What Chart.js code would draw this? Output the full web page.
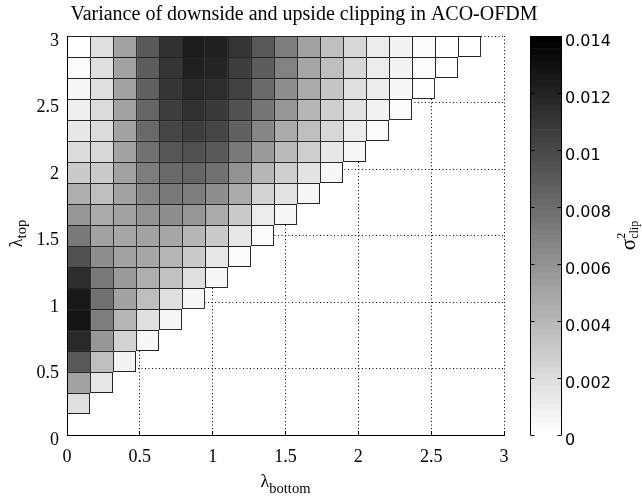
<!DOCTYPE html>
<html>
<head>
<meta charset="utf-8">
<script src="https://cdn.jsdelivr.net/npm/chart.js@4.4.0/dist/chart.umd.min.js"></script>
<style>
    html, body { margin: 0; padding: 0; background: #fff; }
    #wrap { position: relative; width: 642px; height: 498px; }
    #wrap canvas { position: absolute; left: 0; top: 0; }
</style>
</head>
<body>
<div id="wrap">
    <canvas id="heatmap" width="642" height="498"></canvas>
    <canvas id="colorbar" width="642" height="498"></canvas>
</div>
<script>
// lambda grid (20 points, 0..3) used for both lambda_bottom and lambda_top
const lambdaGrid = [0, 0.158, 0.316, 0.474, 0.632, 0.789, 0.947, 1.105, 1.263, 1.421,
                    1.579, 1.737, 1.895, 2.053, 2.211, 2.368, 2.526, 2.684, 2.842, 3];

// clipping variance, one row per lambda_top cell (top row first),
// entries go left to right along lambda_bottom
const varianceRows = [
    [0, 0.0019, 0.0052, 0.0091, 0.0113, 0.0124, 0.0122, 0.0110, 0.0091, 0.0071, 0.0052, 0.0036, 0.0022, 0.0013, 0.0008, 0.0004, 0, 0],
    [0.0003, 0.0019, 0.0052, 0.0088, 0.0111, 0.0122, 0.0119, 0.0107, 0.0088, 0.0069, 0.0049, 0.0035, 0.0022, 0.0013, 0.0007, 0.0003, 0],
    [0.0006, 0.0019, 0.0051, 0.0086, 0.0110, 0.0118, 0.0115, 0.0103, 0.0082, 0.0063, 0.0046, 0.0031, 0.0019, 0.0011, 0.0006, 0.0002],
    [0.0010, 0.0020, 0.0051, 0.0085, 0.0106, 0.0113, 0.0108, 0.0096, 0.0075, 0.0057, 0.0041, 0.0028, 0.0017, 0.0008, 0.0003],
    [0.0014, 0.0020, 0.0051, 0.0081, 0.0101, 0.0106, 0.0101, 0.0086, 0.0066, 0.0048, 0.0035, 0.0022, 0.0011, 0.0003],
    [0.0020, 0.0024, 0.0052, 0.0077, 0.0093, 0.0096, 0.0090, 0.0074, 0.0055, 0.0038, 0.0028, 0.0015, 0.0006],
    [0.0030, 0.0030, 0.0052, 0.0071, 0.0082, 0.0085, 0.0077, 0.0060, 0.0041, 0.0028, 0.0017, 0.0006],
    [0.0044, 0.0037, 0.0052, 0.0066, 0.0074, 0.0071, 0.0063, 0.0047, 0.0025, 0.0017, 0.0006],
    [0.0058, 0.0047, 0.0052, 0.0060, 0.0063, 0.0058, 0.0047, 0.0030, 0.0013, 0.0006],
    [0.0074, 0.0052, 0.0049, 0.0052, 0.0049, 0.0041, 0.0030, 0.0015, 0.0004],
    [0.0096, 0.0063, 0.0052, 0.0049, 0.0041, 0.0030, 0.0015, 0.0004],
    [0.0115, 0.0074, 0.0055, 0.0044, 0.0033, 0.0019, 0.0006],
    [0.0126, 0.0077, 0.0052, 0.0036, 0.0019, 0.0006],
    [0.0129, 0.0071, 0.0041, 0.0019, 0.0006],
    [0.0118, 0.0058, 0.0025, 0.0006],
    [0.0091, 0.0036, 0.0008],
    [0.0052, 0.0014],
    [0.0019]
];

const axisTicks = [0, 0.5, 1, 1.5, 2, 2.5, 3];
const axisTickLabels = ['0', '0.5', '1', '1.5', '2', '2.5', '3'];
const cbarTicks = [0, 0.002, 0.004, 0.006, 0.008, 0.01, 0.012, 0.014];
const cbarTickLabels = ['0', '0.002', '0.004', '0.006', '0.008', '0.01', '0.012', '0.014'];
const cMax = 0.014;
const cLevels = 64;

const titleText = 'Variance of downside and upside clipping in ACO-OFDM';

// reversed gray colormap (white = 0, black = max)
function grayFor(v) {
    const level = Math.min(cLevels - 1, Math.max(0, Math.floor(v / cMax * cLevels)));
    const g = Math.round(255 * (1 - level / (cLevels - 1)));
    return `rgb(${g},${g},${g})`;
}

// build one floating bar per cell
const cells = [];
varianceRows.forEach((row, r) => {
    const j = lambdaGrid.length - 2 - r;
    row.forEach((v, i) => {
        cells.push({
            x: (lambdaGrid[i] + lambdaGrid[i + 1]) / 2,
            y: [lambdaGrid[j], lambdaGrid[j + 1]],
            v: v, i: i, j: j
        });
    });
});

const align = p => Math.round(p - 0.5) + 0.5;

function drawSub(ctx, main, sub, x, y, mainSize, subSize, subDrop) {
    ctx.font = mainSize + 'px "Liberation Serif"';
    const w1 = ctx.measureText(main).width;
    ctx.font = subSize + 'px "Liberation Serif"';
    const w2 = ctx.measureText(sub).width;
    const start = x - (w1 + w2) / 2;
    ctx.textAlign = 'left';
    ctx.font = mainSize + 'px "Liberation Serif"';
    ctx.fillText(main, start, y);
    ctx.font = subSize + 'px "Liberation Serif"';
    ctx.fillText(sub, start + w1, y + subDrop);
}

const heatmapLabels = {
    id: 'heatmapLabels',
    afterDraw(chart) {
        const {ctx, chartArea, scales} = chart;
        ctx.save();
        ctx.fillStyle = '#000';
        ctx.strokeStyle = '#000';
        ctx.lineWidth = 1;
        ctx.textBaseline = 'alphabetic';

        // title
        ctx.font = '20px "Liberation Serif"';
        ctx.textAlign = 'center';
        ctx.fillText(titleText, 304, 20);

        // inward tick marks on the bottom axis
        ctx.beginPath();
        axisTicks.forEach(v => {
            const px = align(scales.x.getPixelForValue(v));
            ctx.moveTo(px, chartArea.bottom);
            ctx.lineTo(px, chartArea.bottom - 4);
        });
        ctx.stroke();

        // x label
        const midX = (chartArea.left + chartArea.right) / 2;
        drawSub(ctx, 'λ', 'bottom', midX, 487, 18, 14.5, 6);

        // y label (rotated)
        const midY = (chartArea.top + chartArea.bottom) / 2;
        ctx.save();
        ctx.translate(22, midY - 2);
        ctx.rotate(-Math.PI / 2);
        drawSub(ctx, 'λ', 'top', 0, 0, 18, 14.5, 4);
        ctx.restore();
        ctx.restore();
    }
};

new Chart(document.getElementById('heatmap'), {
    type: 'bar',
    data: {
        datasets: [{
            data: cells,
            backgroundColor: c => c.raw ? grayFor(c.raw.v) : '#fff',
            borderColor: '#222',
            borderWidth: c => {
                const edge = c.raw && c.raw.i === c.raw.j - 1 ? 1 : 0;
                return {top: 1, left: 1, right: edge, bottom: edge};
            },
            borderSkipped: false,
            inflateAmount: 0,
            grouped: false,
            barPercentage: 1,
            categoryPercentage: 1
        }]
    },
    options: {
        responsive: false,
        animation: false,
        events: [],
        layout: {padding: {left: 0, top: 36, right: 138, bottom: 0}},
        plugins: {
            legend: {display: false},
            tooltip: {enabled: false}
        },
        scales: {
            x: {
                type: 'linear',
                min: 0,
                max: 3,
                offset: false,
                grid: {offset: false, color: '#000', lineWidth: 1, drawTicks: false},
                border: {color: '#000', width: 1, dash: [1, 2.5], z: 1},
                afterBuildTicks: s => { s.ticks = axisTicks.map(value => ({value})); },
                afterFit: s => { s.height = 63; },
                ticks: {
                    callback: (v, idx) => axisTickLabels[idx],
                    font: {family: 'Liberation Serif', size: 18},
                    color: '#000',
                    padding: 11,
                    maxRotation: 0,
                    autoSkip: false
                }
            },
            y: {
                type: 'linear',
                min: 0,
                max: 3,
                grid: {color: '#000', lineWidth: 1, drawTicks: false},
                border: {color: '#000', width: 1, dash: [1, 2.5], z: 1},
                afterBuildTicks: s => { s.ticks = axisTicks.map(value => ({value})); },
                afterFit: s => { s.width = 67; },
                ticks: {
                    callback: (v, idx) => axisTickLabels[idx],
                    font: {family: 'Liberation Serif', size: 18},
                    color: '#000',
                    padding: 8,
                    labelOffset: 5,
                    autoSkip: false
                }
            }
        }
    },
    plugins: [heatmapLabels]
});

// colorbar: one floating bar per colormap level
const bandSize = cMax / cLevels;
const bands = [];
for (let k = 0; k < cLevels; k++) {
    bands.push({x: 'c', y: [k * bandSize, (k + 1) * bandSize], mid: (k + 0.5) * bandSize});
}

const colorbarFrame = {
    id: 'colorbarFrame',
    afterDraw(chart) {
        const {ctx, chartArea, scales} = chart;
        const l = align(chartArea.left), r = align(chartArea.right - 1);
        ctx.save();
        ctx.strokeStyle = '#000';
        ctx.lineWidth = 1;
        ctx.beginPath();
        ctx.moveTo(l, chartArea.top);
        ctx.lineTo(l, chartArea.bottom);
        ctx.moveTo(r, chartArea.top);
        ctx.lineTo(r, chartArea.bottom);
        cbarTicks.forEach(v => {
            const py = align(scales.y.getPixelForValue(v));
            ctx.moveTo(l, py);
            ctx.lineTo(l + 4, py);
            ctx.moveTo(r, py);
            ctx.lineTo(r - 4, py);
        });
        ctx.stroke();

        // colorbar label sigma^2_clip (rotated)
        const midY = (chartArea.top + chartArea.bottom) / 2;
        ctx.fillStyle = '#000';
        ctx.textBaseline = 'alphabetic';
        ctx.translate(635, midY);
        ctx.rotate(-Math.PI / 2);
        ctx.font = '21px "Liberation Serif"';
        const ws = ctx.measureText('σ').width;
        ctx.font = '12px "Liberation Serif"';
        const wc = ctx.measureText('clip').width;
        const start = -(ws + wc) / 2;
        ctx.font = '21px "Liberation Serif"';
        ctx.fillText('σ', start, 0);
        ctx.font = '12px "Liberation Serif"';
        ctx.fillText('2', start + ws, -10);
        ctx.fillText('clip', start + ws, 3);
        ctx.restore();
    }
};

new Chart(document.getElementById('colorbar'), {
    type: 'bar',
    data: {
        labels: ['c'],
        datasets: [{
            data: bands,
            backgroundColor: c => c.raw ? grayFor(c.raw.mid) : '#fff',
            borderWidth: 0,
            grouped: false,
            barPercentage: 1,
            categoryPercentage: 1
        }]
    },
    options: {
        responsive: false,
        animation: false,
        events: [],
        layout: {padding: {left: 530, top: 36, right: 0, bottom: 63}},
        plugins: {
            legend: {display: false},
            tooltip: {enabled: false}
        },
        scales: {
            x: {display: false},
            y: {
                position: 'right',
                min: 0,
                max: cMax,
                grid: {display: false, drawTicks: false},
                border: {display: false},
                afterBuildTicks: s => { s.ticks = cbarTicks.map(value => ({value})); },
                afterFit: s => { s.width = 80; },
                ticks: {
                    callback: (v, idx) => cbarTickLabels[idx],
                    font: {family: 'DejaVu Sans', size: 16},
                    color: '#000',
                    padding: 3,
                    labelOffset: 6,
                    autoSkip: false
                }
            }
        }
    },
    plugins: [colorbarFrame]
});
</script>
</body>
</html>
